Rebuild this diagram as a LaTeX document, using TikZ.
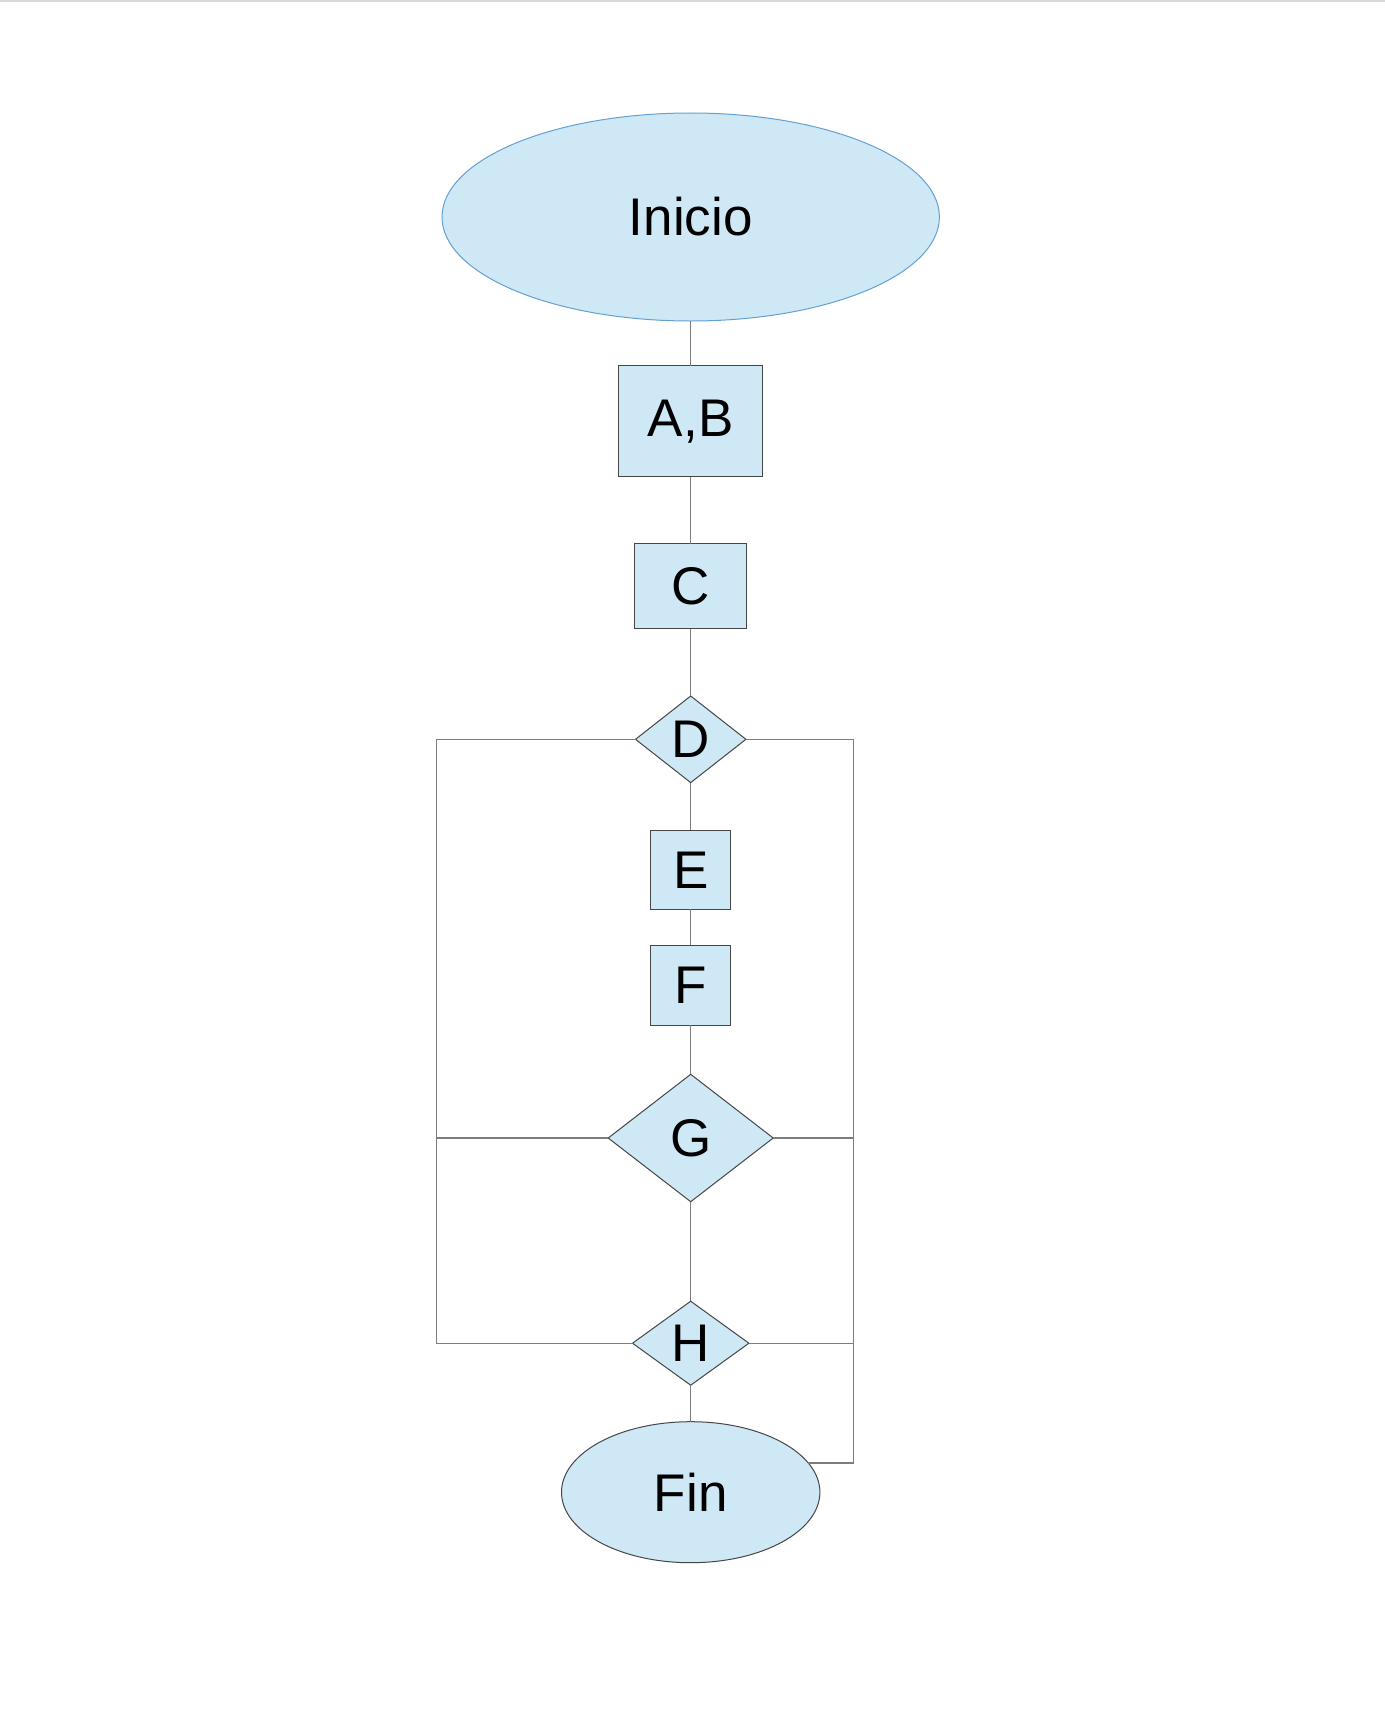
\documentclass[tikz,border=0pt]{standalone}
\usepackage{fontspec}
\setmainfont{Liberation Sans}
\usetikzlibrary{shapes.geometric}
\definecolor{boxfill}{RGB}{207,232,246}
\definecolor{boxline}{RGB}{70,70,70}
\definecolor{ovalline}{RGB}{100,160,210}
\definecolor{wire}{RGB}{125,125,125}
\begin{document}
\begin{tikzpicture}[x=0.5pt,y=-0.5pt,
  every node/.style={font=\fontsize{26.5pt}{30pt}\selectfont, inner sep=0pt, outer sep=0pt},
  stepbox/.style={rectangle, draw=boxline, fill=boxfill, line width=0.5pt},
  decision/.style={diamond, draw=boxline, fill=boxfill, line width=0.5pt},
  terminal/.style={ellipse, fill=boxfill, line width=0.5pt},
  wireline/.style={draw=wire, line width=0.7pt}]
\useasboundingbox (0,0) rectangle (1385,1718);
\fill[white] (0,0) rectangle (1385,1718);
\draw[gray!30, line width=0.6pt] (0,1) -- (1385,1);
\coordinate (L) at (436.7,0);
\coordinate (R) at (853.3,0);
% connectors first (under shapes)
\path (690.7,217) node[terminal, draw=ovalline, minimum width=248.7pt, minimum height=104pt] (ini) {};
\path (690.7,421.3) node[stepbox, minimum width=71.8pt, minimum height=55.6pt] (ab) {};
\path (690.7,586.2) node[stepbox, minimum width=55.8pt, minimum height=42.5pt] (c) {};
\path (690.7,739.3) node[decision, minimum width=55.2pt, minimum height=43.3pt] (d) {};
\path (690.7,869.8) node[stepbox, minimum width=39.8pt, minimum height=39.5pt] (e) {};
\path (690.7,985.2) node[stepbox, minimum width=39.8pt, minimum height=39.8pt] (f) {};
\path (690.7,1138) node[decision, minimum width=82.5pt, minimum height=63.7pt] (g) {};
\path (690.7,1343.2) node[decision, minimum width=58.2pt, minimum height=42pt] (h) {};
\path (690.7,1492.2) node[terminal, draw=boxline, minimum width=129.2pt, minimum height=70.5pt] (fin) {};
% wires
\draw[wireline] (ini.south) -- (ab.north);
\draw[wireline] (ab.south) -- (c.north);
\draw[wireline] (c.south) -- (d.north);
\draw[wireline] (d.south) -- (e.north);
\draw[wireline] (e.south) -- (f.north);
\draw[wireline] (f.south) -- (g.north);
\draw[wireline] (g.south) -- (h.north);
\draw[wireline] (h.south) -- (fin.north);
\draw[wireline] (d.west) -- (d.west -| L) |- (h.west);
\draw[wireline] (g.west) -- (g.west -| L);
\draw[wireline] (d.east) -- (d.east -| R) |- (fin.14);
\draw[wireline] (g.east) -- (g.east -| R);
\draw[wireline] (h.east) -- (h.east -| R);
% texts
\node at (ini.center) {Inicio};
\node at (ab.center) {A,B};
\node at (c.center) {C};
\node at (d.center) {D};
\node at (e.center) {E};
\node at (f.center) {F};
\node at (g.center) {G};
\node at (h.center) {H};
\node at (fin.center) {Fin};
\end{tikzpicture}
\end{document}
